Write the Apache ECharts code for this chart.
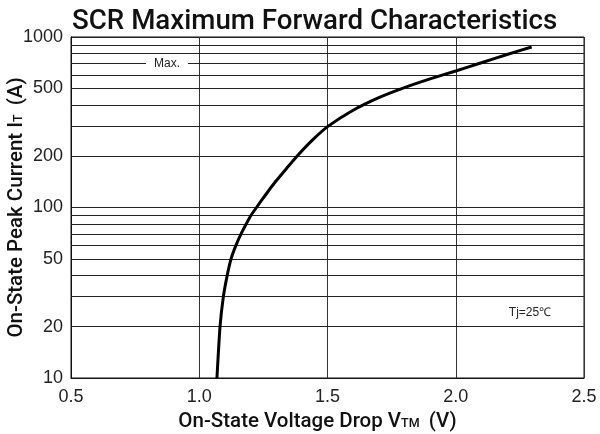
<!DOCTYPE html>
<html><head><meta charset="utf-8">
<script src="https://cdn.jsdelivr.net/npm/echarts@6/dist/echarts.min.js"></script>
<style>html,body{margin:0;padding:0;background:#fff}#c{width:600px;height:434px}</style>
</head><body><div id="c"></div>
<script>
// On-state voltage (V) and peak current (A)
const voltage = [1.069, 1.081, 1.094, 1.109, 1.124, 1.143, 1.163, 1.183, 1.202, 1.223, 1.261, 1.296, 1.341, 1.381, 1.443, 1.503, 1.600, 1.700, 1.800, 1.900, 2.000, 2.100, 2.200, 2.296];
const current = [10, 20, 30, 40, 50, 60, 70, 80, 90, 100, 120, 141, 170, 200, 250, 300, 372, 441, 505, 568, 632, 706, 789, 874];
// horizontal grid values and the extra labelled ones
const yGridValues = [20, 30, 40, 50, 60, 70, 80, 90, 200, 300, 400, 500, 600, 700, 800, 900];
const yExtraLabels = [20, 50, 200, 500];
const xTickLabels = ['0.5', '1.0', '1.5', '2.0', '2.5'];

const FONT = "'Liberation Sans', Arial, sans-serif";
const HFONT = "Roboto, 'Liberation Sans', Arial, sans-serif";
const chart = echarts.init(document.getElementById('c'), null, {renderer: 'canvas'});
const pts = voltage.map((v, i) => [v, current[i]]);

function nameRich(extraPad) {
  return {
    b: {fontFamily: HFONT, fontSize: 20.5, fontWeight: 500, color: '#111', lineHeight: 24, verticalAlign: 'bottom'},
    s: {fontFamily: HFONT, fontSize: 12.5, fontWeight: 500, color: '#111', lineHeight: 18, verticalAlign: 'bottom', padding: [0, 0, 2, 0]},
    p: {fontFamily: HFONT, fontSize: 20.5, fontWeight: 500, color: '#111', lineHeight: 24, verticalAlign: 'bottom', padding: [0, extraPad, 0, 4]}
  };
}

chart.setOption({
  animation: false,
  backgroundColor: '#fff',
  textStyle: {fontFamily: FONT},
  title: {
    text: 'SCR Maximum Forward Characteristics',
    left: 67, top: 3,
    textStyle: {fontFamily: HFONT, fontSize: 27.7, fontWeight: 500, color: '#111'}
  },
  grid: {left: 71, right: 16, top: 37, bottom: 56, outerBoundsMode: 'none', containLabel: false,
    show: true, borderColor: '#111', borderWidth: 1, backgroundColor: 'transparent'},
  xAxis: {
    type: 'value', min: 0.5, max: 2.5, interval: 0.5,
    axisLine: {show: true, lineStyle: {color: '#111', width: 1}},
    axisTick: {show: false},
    axisLabel: {fontFamily: FONT, fontSize: 18, color: '#222', margin: 10,
      formatter: v => xTickLabels[Math.round((v - 0.5) / 0.5)]},
    splitLine: {show: true, lineStyle: {color: '#333', width: 1}},
    name: '{b|On-State Voltage Drop V}{s|TM}{p| (V)}',
    nameLocation: 'middle', nameGap: 30, nameMoveOverlap: false,
    nameTextStyle: {rich: nameRich(20)}
  },
  yAxis: {
    type: 'log', logBase: 10, min: 10, max: 1000,
    axisLine: {show: true, lineStyle: {color: '#111', width: 1}},
    axisTick: {show: false},
    axisLabel: {fontFamily: FONT, fontSize: 18, color: '#222', margin: 8, formatter: v => String(v)},
    splitLine: {show: true, lineStyle: {color: '#222', width: 1}},
    name: '{b|On-State Peak Current I}{s|T}{p| (A)}',
    nameLocation: 'middle', nameRotate: 90, nameGap: 44, nameMoveOverlap: false,
    nameTextStyle: {rich: nameRich(0)}
  },
  series: [{
    type: 'line',
    data: pts,
    smooth: 0.2,
    symbol: 'none',
    lineStyle: {color: '#000', width: 3},
    z: 5,
    markLine: {
      silent: true,
      symbol: 'none',
      animation: false,
      lineStyle: {color: '#222', width: 1, type: 'solid'},
      emphasis: {disabled: true},
      data: yGridValues.map(v => ({
        yAxis: v,
        label: {show: yExtraLabels.includes(v), position: 'start', distance: 8,
          formatter: () => String(v), fontFamily: FONT, fontSize: 18, color: '#222'}
      }))
    }
  }],
  graphic: [
    {type: 'text', x: 167, y: 64, z: 100,
      style: {text: 'Max.', font: '12px ' + FONT, fill: '#222', textAlign: 'center', textVerticalAlign: 'middle',
        align: 'center', verticalAlign: 'middle', backgroundColor: '#fff', padding: [2, 8]}},
    {type: 'text', x: 530, y: 313, z: 100,
      style: {text: 'Tj=25℃', font: '12px ' + FONT, fill: '#222', textAlign: 'center', textVerticalAlign: 'middle',
        align: 'center', verticalAlign: 'middle'}}
  ]
});
</script>
</body></html>
